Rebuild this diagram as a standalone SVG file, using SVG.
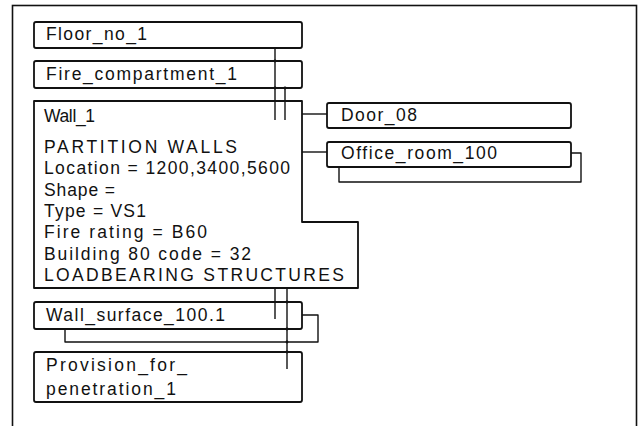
<svg xmlns="http://www.w3.org/2000/svg" width="638" height="426" viewBox="0 0 638 426">
<style>
.frame{fill:none;stroke:#111;stroke-width:1.6}
.box{fill:none;stroke:#111;stroke-width:1.8;stroke-linejoin:round}
.ln{fill:none;stroke:#111;stroke-width:1.4;stroke-linejoin:round}
.dot{fill:#111}
text{font-family:"Liberation Sans","DejaVu Sans",Arial,sans-serif;font-size:17.5px;fill:#111}
</style>
<rect width="638" height="426" fill="#fff"/>
<rect class="frame" x="12.5" y="5.5" width="624" height="440"/>

<g id="connectors">
  <path class="ln" d="M275,48 V120"/>
  <path class="ln" d="M285,88 V120"/>
  <path class="ln" d="M302,114 H327"/>
  <path class="ln" d="M302,152 H327"/>
  <path class="ln" d="M571,153 H581 V182 H339 V167"/>
  <path class="ln" d="M275,288 V319"/>
  <path class="ln" d="M287,288 V369"/>
  <path class="ln" d="M302,315 H318 V342 H65 V329"/>
  <circle class="dot" cx="275" cy="61" r="1.4"/>
  <circle class="dot" cx="275" cy="88" r="1.4"/>
  <circle class="dot" cx="285" cy="88" r="1.4"/>
  <circle class="dot" cx="287" cy="302" r="1.4"/>
  <circle class="dot" cx="287" cy="329" r="1.4"/>
  <circle class="dot" cx="287" cy="342" r="1.4"/>
  <circle class="dot" cx="287" cy="352" r="1.4"/>
</g>

<g id="floor_no_1">
  <rect class="box" x="34" y="22" width="268" height="26" rx="2"/>
  <text x="46" y="40" textLength="101" lengthAdjust="spacing">Floor_no_1</text>
</g>

<g id="fire_compartment_1">
  <rect class="box" x="34" y="61" width="268" height="27" rx="2"/>
  <text x="46" y="79.5" textLength="191" lengthAdjust="spacing">Fire_compartment_1</text>
</g>

<g id="wall_1">
  <path class="box" d="M34,101 H302 V222 H358 V288 H34 Z"/>
  <text x="44" y="122" textLength="51" lengthAdjust="spacing">Wall_1</text>
  <text x="44" y="152.5" textLength="193" lengthAdjust="spacing">PARTITION WALLS</text>
  <text x="44" y="174" textLength="246" lengthAdjust="spacing">Location = 1200,3400,5600</text>
  <text x="44" y="195.5" textLength="71" lengthAdjust="spacing">Shape =</text>
  <text x="44" y="216.5" textLength="102" lengthAdjust="spacing">Type = VS1</text>
  <text x="44" y="238" textLength="163" lengthAdjust="spacing">Fire rating = B60</text>
  <text x="44" y="259.5" textLength="207" lengthAdjust="spacing">Building 80 code = 32</text>
  <text x="44" y="281" textLength="300" lengthAdjust="spacing">LOADBEARING STRUCTURES</text>
</g>

<g id="door_08">
  <rect class="box" x="327" y="103" width="244" height="25" rx="2"/>
  <text x="341" y="120.5" textLength="76" lengthAdjust="spacing">Door_08</text>
</g>

<g id="office_room_100">
  <rect class="box" x="327" y="142" width="244" height="25" rx="2"/>
  <text x="341" y="159" textLength="156" lengthAdjust="spacing">Office_room_100</text>
</g>

<g id="wall_surface_100_1">
  <rect class="box" x="34" y="302" width="268" height="27" rx="2"/>
  <text x="46" y="320.5" textLength="179" lengthAdjust="spacing">Wall_surface_100.1</text>
</g>

<g id="provision_for_penetration_1">
  <rect class="box" x="34" y="352" width="268" height="50" rx="2"/>
  <text x="46" y="371" textLength="141" lengthAdjust="spacing">Provision_for_</text>
  <text x="46" y="395" textLength="130" lengthAdjust="spacing">penetration_1</text>
</g>
</svg>
